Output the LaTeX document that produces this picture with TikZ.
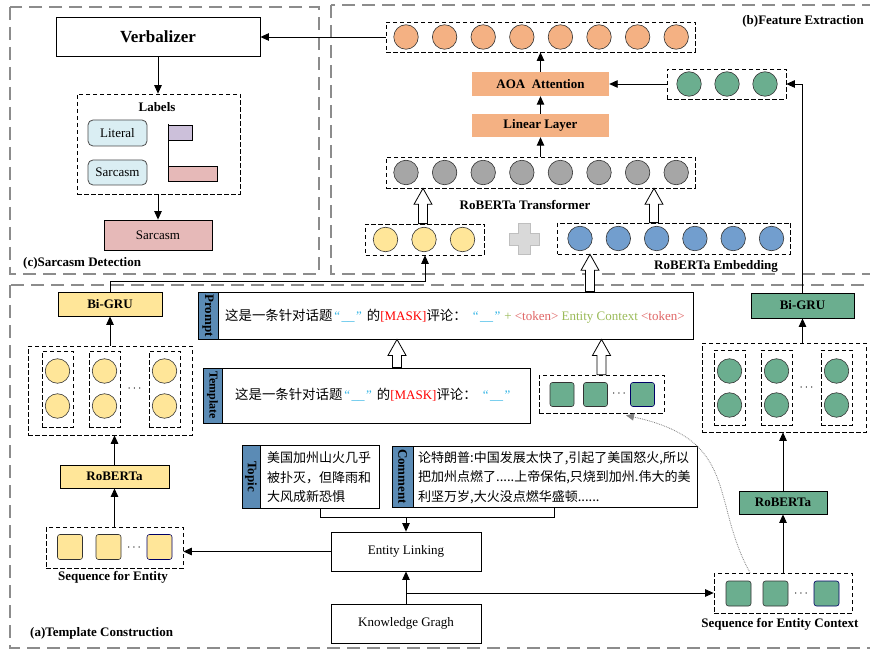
\documentclass[tikz,border=0pt]{standalone}
\usepackage{fontspec}
\setmainfont{Liberation Serif}
\newfontfamily\cjk{Noto Sans CJK SC}
\usetikzlibrary{arrows.meta,calc}
\definecolor{orng}{HTML}{F4B183}
\definecolor{grayc}{HTML}{A6A6A6}
\definecolor{yell}{HTML}{FFE699}
\definecolor{bluec}{HTML}{729ECE}
\definecolor{grn}{HTML}{6BAE8F}
\definecolor{pinkc}{HTML}{E6B9B8}
\definecolor{litblue}{HTML}{DAEEF3}
\definecolor{lav}{HTML}{CCC0DA}
\definecolor{stripc}{HTML}{5B8BB5}
\definecolor{panelc}{HTML}{8C8C8C}
\definecolor{qblue}{HTML}{33B5E5}
\definecolor{pgreen}{HTML}{9BBB59}
\definecolor{tokred}{HTML}{E06666}
\definecolor{plusf}{HTML}{D9D9D9}
\definecolor{plusd}{HTML}{BFBFBF}
\newcommand{\hollowarrow}[2]{%
  \path[draw, fill=white, line width=0.8pt] let \p1=#1, \p2=#2 in
   (\x1-4.5pt,\y1) -- (\x1-4.5pt,\y2-16pt) -- (\x1-9pt,\y2-16pt) -- (\x1,\y2)
   -- (\x1+9pt,\y2-16pt) -- (\x1+4.5pt,\y2-16pt) -- (\x1+4.5pt,\y1) -- cycle;}
\newcommand{\blank}{{\color{qblue}“\kern1.5pt\_\_\kern1.5pt”}}
\begin{document}
\begin{tikzpicture}[x=1pt,y=-1pt,
  font=\fontsize{13pt}{15.6pt}\selectfont,
  panel/.style={draw=panelc, line width=1.8pt, dash pattern=on 13pt off 7pt},
  dashbox/.style={draw, line width=0.7pt, dash pattern=on 4.5pt off 2.5pt, inner sep=0pt},
  plainbox/.style={draw, line width=0.8pt, inner sep=0pt, align=center},
  fillbox/.style={draw=none, inner sep=0pt, align=center, font=\fontsize{13pt}{15.6pt}\selectfont\bfseries},
  arr/.style={line width=0.9pt, -{Triangle[length=8.5pt,width=7.5pt]}},
  circ/.style={circle, draw=black!80, line width=0.6pt, minimum size=24.5pt, inner sep=0pt},
  sq/.style={rounded corners=2.5pt, draw=black!80, line width=0.6pt, minimum size=24pt, inner sep=0pt},
  lbl/.style={font=\fontsize{13pt}{15.6pt}\selectfont\bfseries, inner sep=0pt},
  strip/.style={fill=stripc, draw, line width=0.8pt, inner sep=0pt, rotate=-90, font=\fontsize{13pt}{15.6pt}\selectfont\bfseries},
  cjktext/.style={inner sep=0pt, align=left, font=\cjk\fontsize{13pt}{19.5pt}\selectfont},
]
\useasboundingbox (0,0) rectangle (870,652);
\fill[white] (0,0) rectangle (870,652);

% ---------------- panels
\draw[panel] (10,7) rectangle (319,274);
\draw[panel] (331,5) rectangle (874,274);
\draw[panel] (10,285) rectangle (874,648);

% ---------------- (c) Sarcasm detection
\node[plainbox, minimum width=204pt, minimum height=39pt, font=\fontsize{17pt}{20pt}\selectfont\bfseries] (verb) at (158,36.5) {Verbalizer};
\node[dashbox, minimum width=163pt, minimum height=100pt] (lbox) at (158.5,144) {};
\node[lbl] (ltitle) at (157,107) {Labels};
\node[plainbox, rounded corners=5pt, fill=litblue, draw=black!70, minimum width=59pt, minimum height=26pt] (lit) at (117.5,133) {Literal};
\node[plainbox, rounded corners=5pt, fill=litblue, draw=black!70, minimum width=59pt, minimum height=25pt] (sar) at (117.5,172.5) {Sarcasm};
\draw[line width=0.8pt] (168,124) -- (168,181);
\node[plainbox, fill=lav, anchor=north west, minimum width=24pt, minimum height=15pt] (bar1) at (168,125) {};
\node[plainbox, fill=pinkc, anchor=north west, minimum width=49pt, minimum height=15pt] (bar2) at (168,166) {};
\node[plainbox, fill=pinkc, minimum width=108pt, minimum height=30pt] (sarc) at (158,235) {Sarcasm};
\node[lbl, anchor=west] (ctitle) at (23,263) {(c)Sarcasm Detection};
\draw[arr] (verb.south) -- (verb.south |- lbox.north);
\draw[arr] (lbox.south -| verb.south) -- (verb.south |- sarc.north);

% ---------------- (b) Feature extraction
\node[dashbox, minimum width=309pt, minimum height=30pt] (orow) at (540.5,37) {};
\foreach \i in {0,...,7} \node[circ, fill=orng] (o\i) at ({406+38.6*\i},37) {};
\node[lbl, anchor=east] (btitle) at (864,21) {(b)Feature Extraction};
\node[fillbox, fill=orng, minimum width=137pt, minimum height=24pt] (aoa) at (540.5,84) {AOA\ \ Attention};
\node[fillbox, fill=orng, minimum width=137pt, minimum height=23pt] (lin) at (540.5,125.5) {Linear Layer};
\node[dashbox, minimum width=119pt, minimum height=30pt] (grow) at (726.5,84) {};
\foreach \xx [count=\i] in {689,727,765} \node[circ, fill=grn] (g\i) at (\xx,84) {};
\node[dashbox, minimum width=309pt, minimum height=31pt] (gray) at (540.5,172.5) {};
\foreach \i in {0,...,7} \node[circ, fill=grayc] (r\i) at ({406+38.6*\i},172.5) {};
\node[lbl] (ttitle) at (525,205) {RoBERTa Transformer};
\node[dashbox, minimum width=119pt, minimum height=31pt] (yrow) at (425,239.5) {};
\foreach \xx [count=\i] in {385.5,424,462.5} \node[circ, fill=yell] (y\i) at (\xx,239.5) {};
\draw[fill=plusf, draw=plusd, line width=0.9pt] (518.5,223.5) -- (530.5,223.5) -- (530.5,233.5) -- (539.5,233.5) -- (539.5,245) -- (530.5,245) -- (530.5,254) -- (518.5,254) -- (518.5,245) -- (509,245) -- (509,233.5) -- (518.5,233.5) -- cycle;
\node[dashbox, minimum width=233pt, minimum height=31pt] (brow) at (674,238.5) {};
\foreach \i in {0,...,5} \node[circ, fill=bluec] (b\i) at ({580+38.3*\i},238.5) {};
\node[lbl] (etitle) at (716,266) {RoBERTa Embedding};

\draw[arr] (orow.west) -- (orow.west -| verb.east);
\draw[arr] (aoa.north) -- (orow.south -| aoa.north);
\draw[arr] (lin.north) -- (aoa.south);
\draw[arr] (gray.north) -- (lin.south);
\draw[arr] (grow.west) -- (aoa.east);
\hollowarrow{($(yrow.north)+(-2,0)$)}{(gray.south)}
\hollowarrow{($(brow.north)+(-20,0)$)}{(gray.south)}

% ---------------- (a) Template construction
% prompt
\node[plainbox, minimum width=495pt, minimum height=47pt] (prompt) at (445.5,315.5) {};
\node[strip, minimum width=47pt, minimum height=20pt] (pstrip) at (208,315.5) {Prompt};
\node[anchor=west, inner sep=0pt] (ptext) at (225,316) {{\cjk\fontsize{13.4pt}{16pt}\selectfont 这是一条针对话题}\hspace{2pt}\blank\hspace{5pt}{\cjk\fontsize{13.4pt}{16pt}\selectfont 的}{\color{red}[MASK]}{\cjk\fontsize{13.4pt}{16pt}\selectfont 评论：}\hspace{6pt}\blank\hspace{4pt}{\color{pgreen}+} {\color{tokred}<token>} {\color{pgreen}Entity Context} {\color{tokred}<token>}};
% template
\node[plainbox, minimum width=327pt, minimum height=55pt] (templ) at (366.5,395.5) {};
\node[strip, minimum width=55pt, minimum height=19pt, font=\fontsize{12pt}{14pt}\selectfont\bfseries] (tstrip) at (212.5,395.5) {Template};
\node[anchor=west, inner sep=0pt] (ttext) at (235,395) {{\cjk\fontsize{13.4pt}{16pt}\selectfont 这是一条针对话题}\hspace{2pt}\blank\hspace{5pt}{\cjk\fontsize{13.4pt}{16pt}\selectfont 的}{\color{red}[MASK]}{\cjk\fontsize{13.4pt}{16pt}\selectfont 评论：}\hspace{6pt}\blank};
% entity-context tokens
\node[dashbox, minimum width=125pt, minimum height=38pt] (sgreen) at (601.5,394) {};
\node[sq, fill=grn] (sg1) at (562,394.5) {};
\node[sq, fill=grn] (sg2) at (595.5,394.5) {};
\node[inner sep=0pt] (sgd) at (619,394) {$\cdots$};
\node[sq, fill=grn, draw=blue!40!black] (sg3) at (642.5,394.5) {};

\hollowarrow{($(templ.north)+(30.5,0)$)}{(prompt.south)}
\hollowarrow{(sgreen.north)}{(prompt.south)}
\hollowarrow{($(prompt.north)+(144.5,0)$)}{(brow.south)}

% topic / comment
\node[plainbox, minimum width=137pt, minimum height=63pt] (topic) at (310.5,476.5) {};
\node[strip, minimum width=63pt, minimum height=18pt] (tpstrip) at (251,476.5) {Topic};
\node[cjktext, anchor=west] (toptext) at (267,477.5) {美国加州山火几乎\\被扑灭，但降雨和\\大风成新恐惧};
\node[plainbox, minimum width=305pt, minimum height=61pt] (comment) at (544.5,476.5) {};
\node[strip, minimum width=61pt, minimum height=21pt] (cmstrip) at (402.5,476.5) {Comment};
\node[cjktext, anchor=west] (cmtext) at (418,477.5) {论特朗普:中国发展太快了,引起了美国怒火,所以\\把加州点燃了.....上帝保佑,只烧到加州.伟大的美\\利坚万岁,大火没点燃华盛顿......};

\coordinate (jn) at (406,517);
\draw[line width=0.9pt] ([xshift=9.5pt]topic.south) |- ([xshift=9.5pt]comment.south |- jn) -- ([xshift=9.5pt]comment.south);

% entity linking / KG
\node[plainbox, minimum width=150pt, minimum height=39pt] (el) at (406,551.5) {Entity Linking};
\node[plainbox, minimum width=150pt, minimum height=39pt] (kg) at (406,623.5) {Knowledge Gragh};
\draw[arr] (jn) -- (el.north);
\draw[arr] (kg.north) -- (el.south);

% left column (entity)
\node[plainbox, fill=yell, minimum width=104pt, minimum height=24pt, font=\fontsize{13pt}{15.6pt}\selectfont\bfseries] (bgl) at (110,304) {Bi-GRU};
\node[dashbox, minimum width=164pt, minimum height=89pt] (bigl) at (110,390.5) {};
\foreach \xx [count=\i] in {57.5,104.5,164.5} {
  \node[dashbox, minimum width=31pt, minimum height=76pt] (il\i) at (\xx,389) {};
  \node[circ, fill=yell] (lu\i) at (\xx,371) {};
  \node[circ, fill=yell] (ld\i) at (\xx,406) {};
}
\node[inner sep=0pt] (ldots) at (134.5,389) {$\cdots$};
\node[plainbox, fill=yell, minimum width=109pt, minimum height=23pt, font=\fontsize{13pt}{15.6pt}\selectfont\bfseries] (robl) at (114.5,476.5) {RoBERTa};
\node[dashbox, minimum width=137pt, minimum height=41pt] (sent) at (114.5,547.5) {};
\node[sq, fill=yell, minimum size=25pt] (se1) at (70,547) {};
\node[sq, fill=yell, minimum size=25pt] (se2) at (108.5,547) {};
\node[inner sep=0pt] (sedots) at (134,548) {$\cdots$};
\node[sq, fill=yell, minimum size=25pt, draw=blue!40!black] (se3) at (159.5,547) {};
\node[lbl] (sentl) at (113,577) {Sequence for Entity};
\node[lbl, anchor=west] (atitle) at (30,633) {(a)Template Construction};

\draw[arr] (bigl.north) -- (bgl.south);
\draw[arr] (robl.north) -- (robl.north |- bigl.south);
\draw[arr] (sent.north -| robl.north) -- (robl.south);
\draw[arr] (bgl.north) |- ($(yrow.south)+(0,26)$) -| (yrow.south);
\draw[arr] (el.west) -- (el.west -| sent.east);

% right column (entity context)
\node[plainbox, fill=grn, minimum width=103pt, minimum height=25pt, font=\fontsize{13pt}{15.6pt}\selectfont\bfseries] (bgr) at (802.5,305.5) {Bi-GRU};
\node[dashbox, minimum width=164pt, minimum height=89pt] (bigr) at (784,387.5) {};
\foreach \xx [count=\i] in {729.5,776.5,836.5} {
  \node[dashbox, minimum width=31pt, minimum height=75pt] (ir\i) at (\xx,387.5) {};
  \node[circ, fill=grn] (ru\i) at (\xx,371) {};
  \node[circ, fill=grn] (rd\i) at (\xx,405) {};
}
\node[inner sep=0pt] (rdots) at (806.5,387.5) {$\cdots$};
\node[plainbox, fill=grn, minimum width=88pt, minimum height=23pt, font=\fontsize{13pt}{15.6pt}\selectfont\bfseries] (robr) at (783,502.5) {RoBERTa};
\node[dashbox, minimum width=138pt, minimum height=40pt] (scx) at (783,593) {};
\node[sq, fill=grn, minimum size=25pt] (sc1) at (738.5,593.5) {};
\node[sq, fill=grn, minimum size=25pt] (sc2) at (775.5,593.5) {};
\node[inner sep=0pt] (scdots) at (801,593.5) {$\cdots$};
\node[sq, fill=grn, minimum size=25pt, draw=blue!40!black] (sc3) at (826.5,593.5) {};
\node[lbl] (scxl) at (780,624) {Sequence for Entity Context};

\draw[arr] (bigr.north -| bgr.south) -- (bgr.south);
\draw[arr] (robr.north) -- (robr.north |- bigr.south);
\draw[arr] (scx.north) -- (robr.south);
\draw[arr] (bgr.north) |- (grow.east);
\draw[arr] (kg.north |- scx.west) -- (scx.west);
\draw[gray, densely dotted, line width=0.8pt, -{Triangle[length=8pt,width=7pt]}]
  ($(scx.north)+(-33,0)$) .. controls (710,500) and (740,440) .. ($(sgreen.south)+(24.5,2)$);
\end{tikzpicture}
\end{document}
